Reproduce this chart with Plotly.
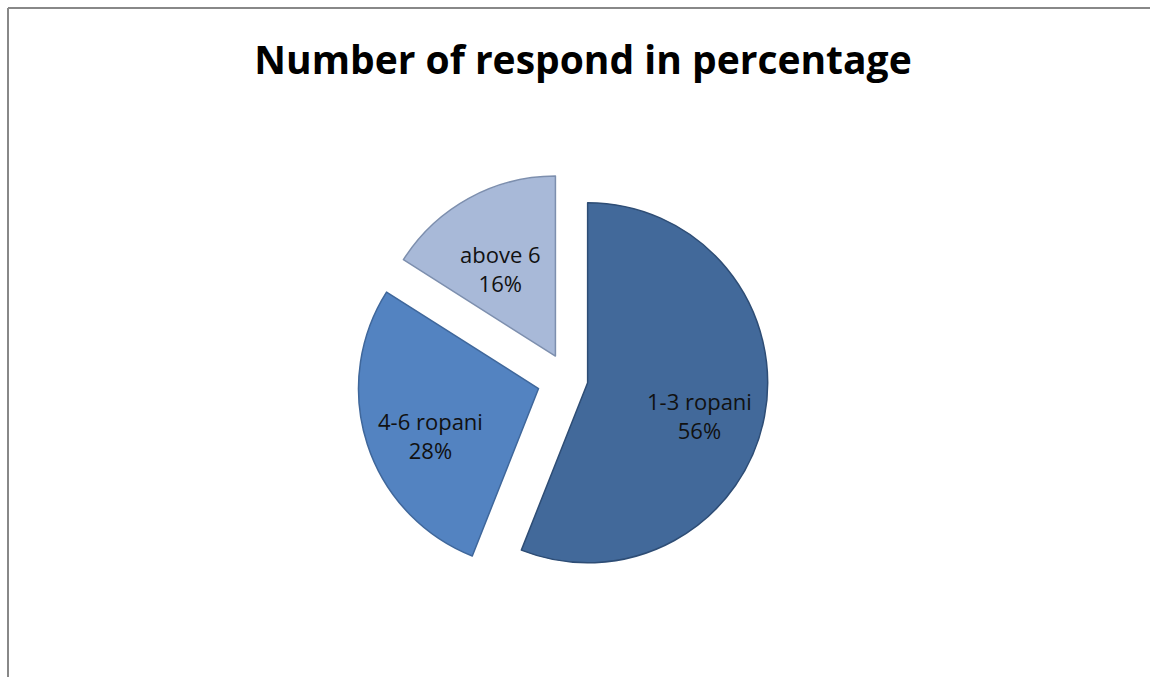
import math
import plotly.graph_objects as go

# Respondents grouped by land holding size
categories = ["1-3 ropani", "4-6 ropani", "above 6"]
shares = [56, 28, 16]
slice_colors = ["#42699A", "#5383C1", "#A8B9D8"]
edge_colors = ["#2E4D75", "#3F679B", "#7D8FAE"]
pulls = [0.111, 0.172, 0.145]

W, H = 1150, 677

# pie placement (pixels)
cx, cy, half = 568, 379, 211
dom_x = [(cx - half) / W, (cx + half) / W]
dom_y = [1 - (cy + half) / H, 1 - (cy - half) / H]

fig = go.Figure(
    go.Pie(
        labels=categories,
        values=shares,
        sort=False,
        direction="clockwise",
        rotation=0,
        pull=pulls,
        marker=dict(colors=slice_colors, line=dict(color=edge_colors, width=1.5)),
        textinfo="none",
        showlegend=False,
        hoverinfo="label+percent",
        domain=dict(x=dom_x, y=dom_y),
    )
)

# slice labels placed along each slice's bisector, following the pull
radius = half / (1 + max(pulls))
total = sum(shares)
label_frac = 0.63
start = 0.0
annotations = []
for name, val, p in zip(categories, shares, pulls):
    mid = (start + val / 2) / total * 2 * math.pi
    start += val
    dist = radius * (p + label_frac)
    px = cx + dist * math.sin(mid)
    py = cy - dist * math.cos(mid)
    annotations.append(dict(
        x=px / W, y=1 - py / H, xref="paper", yref="paper",
        text=f"{name}<br>{round(val / total * 100)}%",
        showarrow=False, align="center", yshift=-12,
        font=dict(family="Open Sans", size=22, color="#111111"),
    ))

fig.update_layout(
    width=W,
    height=H,
    margin=dict(l=0, r=0, t=0, b=0),
    paper_bgcolor="white",
    plot_bgcolor="white",
    title=dict(
        text="<b>Number of respond in percentage</b>",
        x=583 / W,
        xanchor="center",
        y=1 - 60 / H,
        yanchor="middle",
        font=dict(family="Open Sans", size=39, color="black"),
    ),
    annotations=annotations,
    shapes=[
        # chart frame: left and top edges
        dict(type="line", xref="paper", yref="paper",
             x0=8 / W, x1=8 / W, y0=0, y1=1 - 8 / H,
             line=dict(color="#888888", width=2)),
        dict(type="line", xref="paper", yref="paper",
             x0=8 / W, x1=1, y0=1 - 8 / H, y1=1 - 8 / H,
             line=dict(color="#888888", width=2)),
    ],
)

fig.write_html("out.html")
